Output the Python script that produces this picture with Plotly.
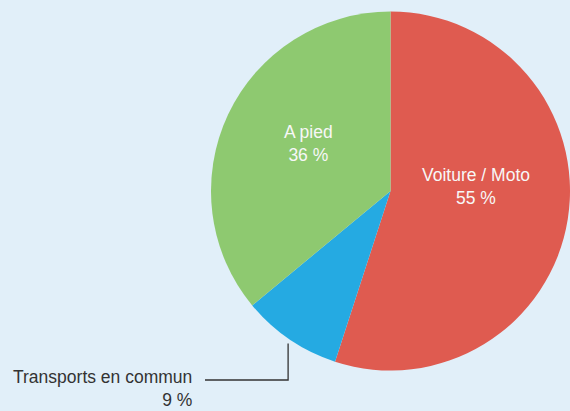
import math
import plotly.graph_objects as go

# Data
labels = ["Voiture / Moto", "Transports en commun", "A pied"]
values = [55, 9, 36]
pct_text = ["55 %", "9 %", "36 %"]
colors = ["#df5b50", "#25aae2", "#8ec970"]

W, H = 570, 411
BG = "#e1eff9"
FONT = "Liberation Sans, Arial, sans-serif"
FS = 17.5

# Pie geometry (pixels)
cx, cy, R = 390.5, 191.0, 179.5

fig = go.Figure(go.Pie(
    labels=labels,
    values=values,
    marker=dict(colors=colors, line=dict(width=0)),
    sort=False,
    direction="clockwise",
    rotation=0,
    textinfo="none",
    hoverinfo="label+percent",
    domain=dict(x=[(cx - R) / W, 1.0],
                y=[(H - cy - R) / H, (H - cy + R) / H]),
    showlegend=False,
))

def px2paper(x, y):
    return x / W, 1 - y / H

total = sum(values)
cum = 0
mids = []
for v in values:
    mids.append((cum + v / 2) / total * 360)
    cum += v

annotations = []
shapes = []
# inside labels: (index, angle offset in deg, radius fraction)
inside = {0: (-12, 0.475), 2: (5, 0.53)}
for i, (doff, rf) in inside.items():
    a = math.radians(mids[i] + doff)
    x = cx + rf * R * math.sin(a)
    y = cy - rf * R * math.cos(a)
    px, py = px2paper(x, y)
    annotations.append(dict(
        x=px, y=py, xref="paper", yref="paper", xanchor="center", yanchor="middle",
        text=f"{labels[i]}<br>{pct_text[i]}", showarrow=False, align="center",
        font=dict(family=FONT, size=FS, color="#f7f7f7"),
    ))

# outside label for small slice with elbow leader line
a = math.radians(mids[1])
ex = cx + R * math.sin(a)
ey = cy - R * math.cos(a)
lx0, ly0 = px2paper(ex - 1.5, ey + 4)
lx1, ly1 = px2paper(ex - 1.5, 380)
lx2, ly2 = px2paper(205, 380)
shapes.append(dict(type="path", xref="paper", yref="paper",
                   path=f"M {lx0} {ly0} L {lx1} {ly1} L {lx2} {ly2}",
                   line=dict(color="#333333", width=1.3)))
tx, ty = px2paper(194, 388)
annotations.append(dict(
    x=tx, y=ty, xref="paper", yref="paper", xanchor="right", yanchor="middle",
    text=f"{labels[1]}<br>{pct_text[1]}", showarrow=False, align="right",
    font=dict(family=FONT, size=FS, color="#333333"),
))

fig.update_layout(
    width=W, height=H,
    margin=dict(l=0, r=0, t=0, b=0),
    paper_bgcolor=BG, plot_bgcolor=BG,
    annotations=annotations, shapes=shapes,
)

fig.write_html(
    "out.html",
    config={"displayModeBar": False},
    post_script="document.body.style.margin='0';document.body.style.overflow='hidden';",
)
